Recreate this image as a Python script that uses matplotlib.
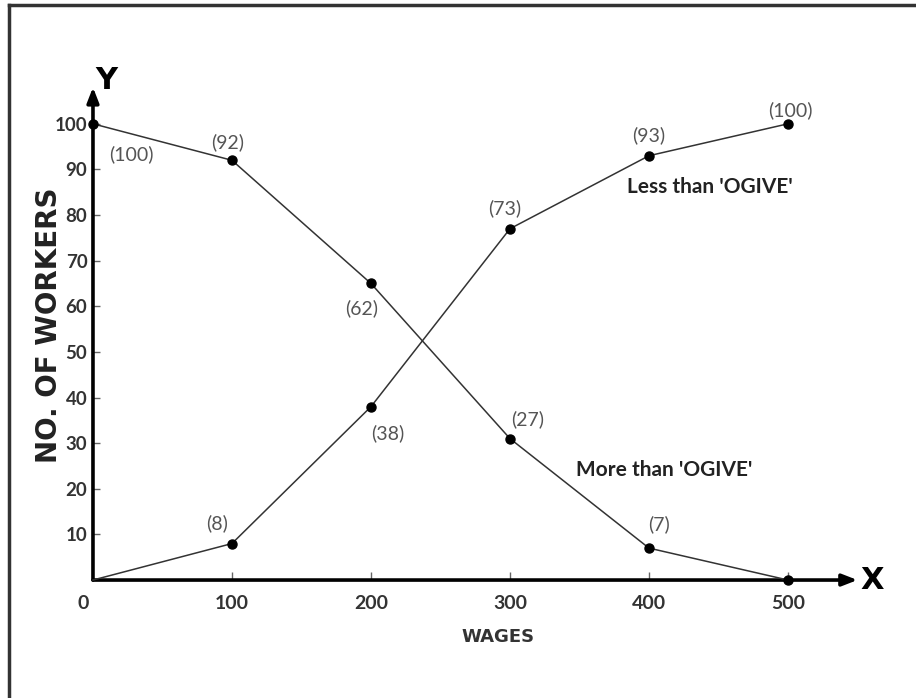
import matplotlib
matplotlib.use("Agg")
import matplotlib.pyplot as plt
from matplotlib.lines import Line2D

# wages (class limits)
wages = [0, 100, 200, 300, 400, 500]

# less than ogive (points as drawn) and the printed labels
less_than = [0, 8, 38, 77, 93, 100]
less_labels = ["", "(8)", "(38)", "(73)", "(93)", "(100)"]

# more than ogive (points as drawn) and the printed labels
more_than = [100, 92, 65, 31, 7, 0]
more_labels = ["(100)", "(92)", "(62)", "(27)", "(7)", ""]

y_ticks = [10, 20, 30, 40, 50, 60, 70, 80, 90, 100]

# label offsets in points (dx, dy)
less_off = [(0, 0), (-11, 15), (12, -19), (-4, 15), (0, 15), (2, 10)]
more_off = [(28, -22), (-3, 13), (-7, -18), (13, 14), (7, 17), (0, 0)]

lbl_font = ["Lato", "DejaVu Sans"]
ink = "#222222"
grey = "#555555"

fig = plt.figure(figsize=(9.16, 6.98), dpi=100, facecolor="white")
ax = fig.add_axes([0.1015, 0.169, 0.8346, 0.719])
ax.set_xlim(0, 550)
ax.set_ylim(0, 110)

for s in ax.spines.values():
    s.set_visible(False)

# axes drawn as arrows
arrow = dict(arrowstyle="-|>,head_length=0.9,head_width=0.35", lw=2.6,
             color="black", shrinkA=0, shrinkB=0)
ax.annotate("", xy=(550, 0), xytext=(0, 0), arrowprops=arrow,
            annotation_clip=False)
ax.annotate("", xy=(0, 108), xytext=(0, 0), arrowprops=arrow,
            annotation_clip=False)

ax.plot(wages, more_than, color="#333333", lw=1.1, marker="o", ms=6.5,
        markerfacecolor="black", markeredgecolor="black", clip_on=False,
        zorder=3)
ax.plot(wages, less_than, color="#333333", lw=1.1, marker="o", ms=6.5,
        markevery=[1, 2, 3, 4, 5], markerfacecolor="black",
        markeredgecolor="black", clip_on=False, zorder=3)

for x, y, t, off in zip(wages, more_than, more_labels, more_off):
    if t:
        ax.annotate(t, (x, y), xytext=off, textcoords="offset points",
                    ha="center", va="center", fontsize=14, color=grey,
                    family=lbl_font)
for x, y, t, off in zip(wages, less_than, less_labels, less_off):
    if t:
        ax.annotate(t, (x, y), xytext=off, textcoords="offset points",
                    ha="center", va="center", fontsize=14, color=grey,
                    family=lbl_font)

ax.text(444, 86.2, "Less than 'OGIVE'", ha="center", va="center",
        fontsize=15, color=ink, family=lbl_font, fontweight="bold")
ax.text(411, 24.1, "More than 'OGIVE'", ha="center", va="center",
        fontsize=15, color=ink, family=lbl_font, fontweight="bold")

ax.set_xticks(wages[1:])
ax.set_yticks(y_ticks)
ax.tick_params(axis="x", direction="in", length=6, width=1, color="#666",
               pad=11, labelsize=14, labelcolor="#333")
ax.tick_params(axis="y", direction="in", length=5, width=1, color="#666",
               pad=4, labelsize=13.5, labelcolor="#333")
for lab in ax.get_xticklabels() + ax.get_yticklabels():
    lab.set_family(lbl_font)
    lab.set_fontweight("bold")

# the zero at the origin sits a bit left of the axis
ax.annotate("0", (0, 0), xytext=(-7, -17), textcoords="offset points",
            ha="center", va="center", fontsize=14, color="#333",
            family=lbl_font, fontweight="bold", annotation_clip=False)

fig.text(0.054, 0.534, "NO. OF WORKERS", rotation=90, ha="center",
         va="center", fontsize=20, fontweight="bold", color=ink)
fig.text(0.5437, 0.0874, "WAGES", ha="center", va="center", fontsize=13,
         fontweight="bold", color="#333")
fig.text(0.952, 0.169, "X", ha="center", va="center", fontsize=22,
         fontweight="bold", color="black")
fig.text(0.1157, 0.885, "Y", ha="center", va="center", fontsize=22,
         fontweight="bold", color="black")

# scanned frame: top and left edges only
fig.add_artist(Line2D([0.0098, 1.0], [0.9928, 0.9928], color="#333",
                      lw=2.5, transform=fig.transFigure))
fig.add_artist(Line2D([0.0098, 0.0098], [0.0, 0.9928], color="#333",
                      lw=2.5, transform=fig.transFigure))

fig.savefig("out.png", dpi=100, facecolor="white")
